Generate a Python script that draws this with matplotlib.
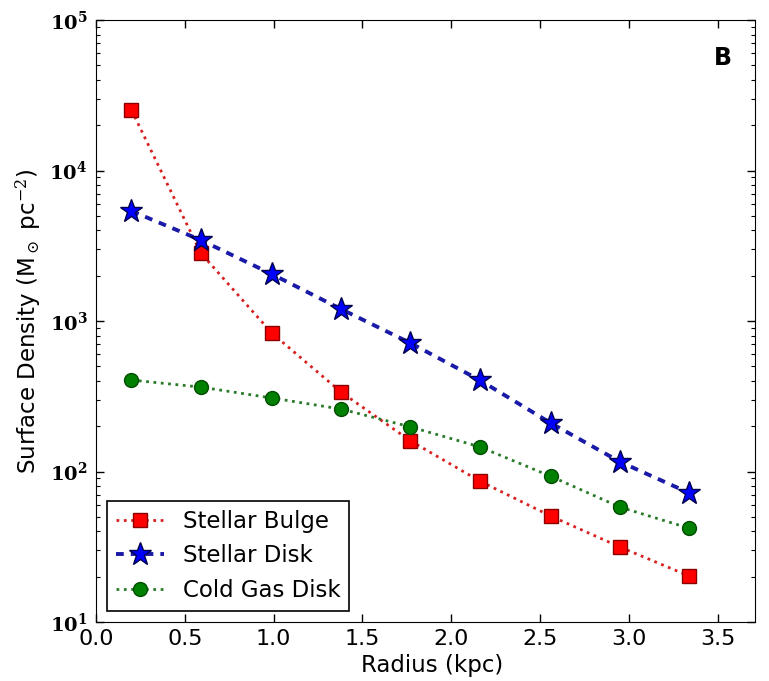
import numpy as np
import matplotlib
matplotlib.use("Agg")
import matplotlib.pyplot as plt
from matplotlib.ticker import LogLocator, FuncFormatter

# radial bins (kpc)
radius = [0.20, 0.59, 0.99, 1.38, 1.77, 2.16, 2.56, 2.95, 3.34]

# surface densities (Msun / pc^2)
bulge = [25200, 2830, 832, 337, 160, 86.5, 50.6, 31.5, 20.2]
disk = [5380, 3450, 2050, 1200, 714, 405, 210, 116, 72]
gas = [405, 364, 308, 260, 198, 146, 93, 58, 42]

labels = ["Stellar Bulge", "Stellar Disk", "Cold Gas Disk"]


def pow10(v, pos):
    return r"$\mathbf{10^{%d}}$" % int(round(np.log10(v)))


def main():
    plt.rcParams["mathtext.fontset"] = "dejavuserif"
    plt.rcParams["xtick.direction"] = "in"
    plt.rcParams["ytick.direction"] = "in"

    fig = plt.figure(figsize=(7.69, 6.81), dpi=100)
    ax = fig.add_axes([0.1248, 0.0866, 0.857, 0.884])

    ax.plot(radius, bulge, linestyle=":", color="#d82020", lw=2,
            marker="s", ms=10, mfc="#ff0000", mec="#8b0000", label=labels[0])
    ax.plot(radius, disk, linestyle="--", dashes=(2.0, 1.8), color="#1a1aa8", lw=2.8,
            marker="*", ms=17, mfc="#0000ff", mec="#00004d", label=labels[1])
    ax.plot(radius, gas, linestyle=":", color="#2a7a2a", lw=2,
            marker="o", ms=10, mfc="#008000", mec="#004d00", label=labels[2])

    ax.set_yscale("log")
    ax.set_xlim(0.0, 3.71)
    ax.set_ylim(10, 1e5)
    ax.set_xticks(np.arange(0.0, 3.51, 0.5))
    ax.yaxis.set_major_locator(LogLocator(base=10))
    ax.yaxis.set_major_formatter(FuncFormatter(pow10))
    ax.tick_params(which="both", top=True, right=True)
    ax.tick_params(which="major", length=6, width=1)
    ax.tick_params(which="minor", length=3, width=0.8)
    ax.tick_params(axis="x", labelsize=16, pad=5)
    ax.tick_params(axis="y", labelsize=14, pad=6)

    ax.set_xlabel("Radius (kpc)", fontsize=16.5)
    ax.xaxis.set_label_coords(0.51, -0.053)
    ax.set_ylabel(r"Surface Density (M$_\odot$ pc$^{-2}$)", fontsize=16.5)
    ax.yaxis.set_label_coords(-0.079, 0.5)

    ax.text(0.951, 0.937, "B", transform=ax.transAxes, fontsize=17,
            fontweight="heavy", ha="center", va="center")

    leg = ax.legend(loc="lower left", numpoints=1, fontsize=16.5,
                    fancybox=False, framealpha=1, edgecolor="black",
                    borderaxespad=0.5, handlelength=2.1, handletextpad=0.8,
                    labelspacing=0.5, borderpad=0.38)
    leg.get_frame().set_linewidth(1.2)

    fig.savefig("out.png", dpi=100)


if __name__ == "__main__": main()
